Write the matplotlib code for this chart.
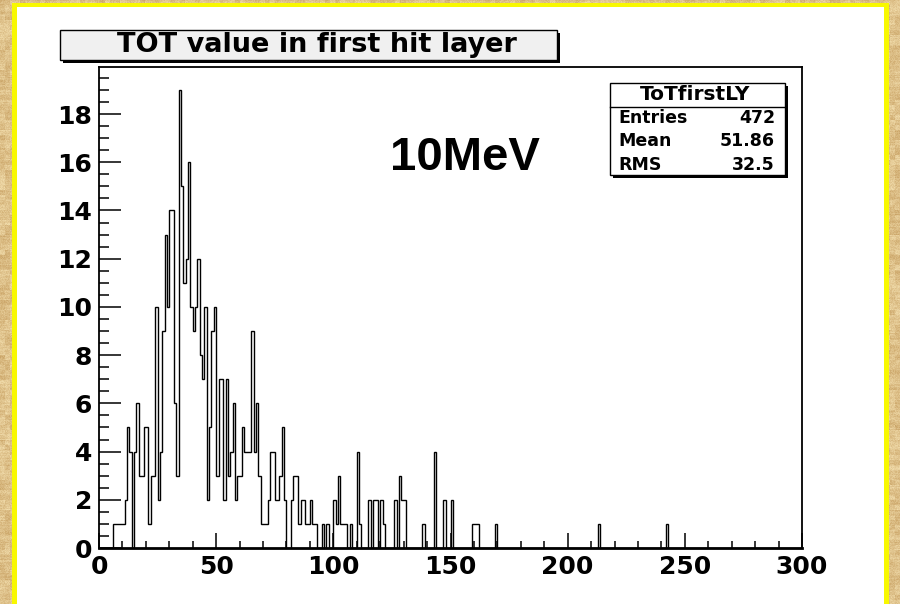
import numpy as np
import matplotlib.pyplot as plt
from matplotlib.patches import Rectangle
from matplotlib.ticker import MultipleLocator

# ToT counts per 1-unit bin, bins 0..169
tot_counts_low = [
    0, 0, 0, 0, 0, 0, 1, 1, 1, 1,
    1, 2, 5, 4, 0, 4, 6, 3, 3, 5,
    5, 1, 3, 3, 10, 2, 4, 9, 13, 10,
    14, 14, 6, 3, 19, 15, 11, 12, 16, 10,
    9, 10, 12, 8, 7, 10, 2, 5, 9, 10,
    3, 7, 7, 2, 7, 3, 4, 6, 2, 3,
    3, 5, 4, 4, 4, 9, 4, 6, 3, 1,
    1, 1, 2, 4, 4, 2, 2, 3, 5, 2,
    0, 0, 2, 3, 3, 1, 2, 2, 1, 1,
    2, 1, 1, 0, 0, 1, 0, 1, 0, 0,
    2, 1, 3, 1, 1, 1, 0, 1, 0, 0,
    4, 1, 0, 0, 0, 2, 0, 2, 2, 0,
    2, 1, 0, 0, 0, 0, 2, 0, 3, 2,
    2, 0, 0, 0, 0, 0, 0, 0, 1, 0,
    0, 0, 0, 4, 0, 0, 0, 2, 0, 0,
    2, 0, 0, 0, 0, 0, 0, 0, 0, 1,
    1, 1, 0, 0, 0, 0, 0, 0, 0, 1,
]
# isolated hits in the long tail
tail_bins = [213, 242]
tail_counts = [1, 1]

x_ticks = [0, 50, 100, 150, 200, 250, 300]
y_ticks = [0, 2, 4, 6, 8, 10, 12, 14, 16, 18]
hist_name = 'ToTfirstLY'
stat_names = ['Entries', 'Mean', 'RMS']
stat_values = ['472', '51.86', '32.5']

edges = np.arange(0, 301)
counts = np.zeros(300)
counts[:len(tot_counts_low)] = tot_counts_low
counts[tail_bins] = tail_counts

W, H = 900, 604
fig = plt.figure(figsize=(W / 100, H / 100), dpi=100)

# parchment-like backdrop, yellow frame and white pad
bg = fig.add_axes([0, 0, 1, 1], zorder=0)
rng = np.random.default_rng(3)
coarse = rng.random((H // 5 + 2, W // 5 + 2))
coarse = np.kron(coarse, np.ones((5, 5)))[:H, :W]
streak = np.repeat(rng.random((H, 1)), W, axis=1)
fine = rng.random((H, W))
shade = 0.45 * coarse + 0.2 * streak + 0.35 * fine
dark = np.array([0.79, 0.64, 0.40])
light = np.array([0.95, 0.87, 0.68])
tex = dark + (light - dark) * shade[..., None]
bg.imshow(tex, extent=[0, W, H, 0], aspect='auto', interpolation='bilinear')
bg.add_patch(Rectangle((12, 3), 877, 610, facecolor='#f8f800', edgecolor='none'))
bg.add_patch(Rectangle((17, 7), 867, 610, facecolor='white', edgecolor='none'))
bg.set_xlim(0, W)
bg.set_ylim(H, 0)
bg.axis('off')

# histogram pad
ax = fig.add_axes([99 / W, 1 - 548 / H, 703 / W, 481 / H], zorder=2)
ax.set_facecolor('white')
ax.stairs(counts, edges, color='black', lw=1.0, baseline=0)
ax.set_xlim(0, 300)
ax.set_ylim(0, 19.95)

ax.set_xticks(x_ticks)
ax.set_yticks(y_ticks)
ax.xaxis.set_minor_locator(MultipleLocator(10))
ax.yaxis.set_minor_locator(MultipleLocator(0.5))
ax.tick_params(axis='x', which='major', direction='in', length=11, width=1.1, pad=5)
ax.tick_params(axis='x', which='minor', direction='in', length=5, width=1.1)
ax.tick_params(axis='y', which='major', direction='in', length=16, width=1.1, pad=5)
ax.tick_params(axis='y', which='minor', direction='in', length=7.5, width=1.1)
ax.tick_params(top=False, right=False, which='both')
for lab in ax.get_xticklabels() + ax.get_yticklabels():
    lab.set_fontfamily('DejaVu Sans')
    lab.set_fontweight('bold')
    lab.set_fontsize(18)
for side in ['left', 'top', 'right']:
    ax.spines[side].set_linewidth(1.3)
ax.spines['bottom'].set_linewidth(2)

ax.text(0.52, 0.81, '10MeV', transform=ax.transAxes, ha='center', va='center',
        fontsize=34, fontweight='bold', family='Liberation Sans')

# title and statistics boxes drawn in pixel units on top
ov = fig.add_axes([0, 0, 1, 1], zorder=3)
ov.set_xlim(0, W)
ov.set_ylim(H, 0)
ov.axis('off')
ov.patch.set_alpha(0)

ov.add_patch(Rectangle((63, 33), 497, 30, facecolor='black', edgecolor='none'))
ov.add_patch(Rectangle((60, 30), 497, 30, facecolor='#f0f0f0', edgecolor='black', lw=1))
ov.text(317, 45.5, 'TOT value in first hit layer', ha='center', va='center',
        fontsize=19.5, fontweight='bold', family='DejaVu Sans')

ov.add_patch(Rectangle((613, 86), 175, 92, facecolor='black', edgecolor='none'))
ov.add_patch(Rectangle((610, 83), 175, 92, facecolor='white', edgecolor='black', lw=1))
ov.plot([610, 785], [107, 107], color='black', lw=1)
ov.text(695, 95, hist_name, ha='center', va='center', fontsize=14.5,
        fontweight='bold', family='DejaVu Sans')
for i, (name, val) in enumerate(zip(stat_names, stat_values)):
    y = 118 + 23.5 * i
    ov.text(618, y, name, ha='left', va='center', fontsize=12.5,
            fontweight='bold', family='DejaVu Sans')
    ov.text(775, y, val, ha='right', va='center', fontsize=12.5,
            fontweight='bold', family='DejaVu Sans')

fig.savefig('out.png', dpi=100)
